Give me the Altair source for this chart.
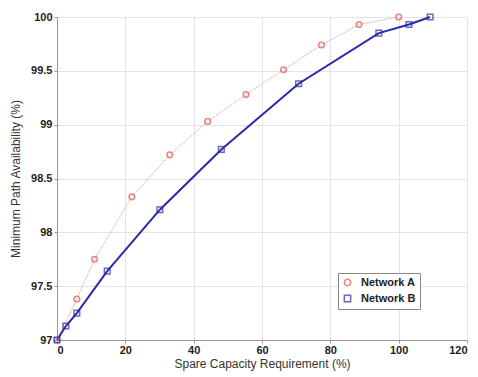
import altair as alt
import pandas as pd

a_x = [0, 5.8, 11.0, 21.9, 33.0, 44.1, 55.3, 66.3, 77.4, 88.4, 100.0]
a_y = [97.0, 97.38, 97.75, 98.33, 98.72, 99.03, 99.28, 99.51, 99.74, 99.93, 100.0]
b_x = [0, 2.6, 5.8, 14.7, 30.1, 48.1, 70.7, 94.2, 103.0, 109.2]
b_y = [97.0, 97.13, 97.25, 97.64, 98.21, 98.77, 99.38, 99.85, 99.93, 100.0]
series = ["Network A", "Network B"]
x_ticks = [0, 20, 40, 60, 80, 100, 120]
y_ticks = [97, 97.5, 98, 98.5, 99, 99.5, 100]

df = pd.concat([
    pd.DataFrame({"x": a_x, "y": a_y, "s": series[0], "o": range(len(a_x))}),
    pd.DataFrame({"x": b_x, "y": b_y, "s": series[1], "o": range(len(b_x))}),
])

xs = alt.Scale(domain=[0, 120], nice=False)
ys = alt.Scale(domain=[97, 100], nice=False, zero=False)
xax = alt.Axis(values=x_ticks, title="Spare Capacity Requirement (%)", grid=True,
               gridColor="#e4e4e4", domainColor="#999", tickColor="#999",
               labelFont="Liberation Sans", labelFontSize=11, labelFontWeight="bold", labelColor="#222",
               titleFont="Liberation Sans", titleFontSize=12, titleFontWeight="normal", titleColor="#333",
               titlePadding=3, labelPadding=1, tickSize=3)
yax = alt.Axis(values=y_ticks, format="~f", title="Minimum Path Availability (%)", grid=True,
               gridColor="#e4e4e4", domainColor="#999", tickColor="#999",
               labelFont="Liberation Sans", labelFontSize=11, labelFontWeight="bold", labelColor="#222",
               titleFont="Liberation Sans", titleFontSize=12, titleFontWeight="normal", titleColor="#333",
               titlePadding=8, labelPadding=2, tickSize=3)

color = alt.Color("s:N", scale=alt.Scale(domain=series, range=["#e05050", "#2a2aa8"]),
                  legend=alt.Legend(title=None, orient="none", legendX=281, legendY=256,
                                    fillColor="white", strokeColor="#888", padding=4,
                                    labelFont="Liberation Sans", labelFontSize=11, labelFontWeight="bold",
                                    labelColor="#222", symbolStrokeWidth=1.5, rowPadding=3,
                                    symbolSize=40, labelOffset=8))
shape = alt.Shape("s:N", scale=alt.Scale(domain=series, range=["circle", "square"]), legend=None)

base = alt.Chart(df).encode(
    x=alt.X("x:Q", scale=xs, axis=xax),
    y=alt.Y("y:Q", scale=ys, axis=yax),
)

line_a = base.transform_filter(alt.datum.s == series[0]).mark_line(
    color="#eab0b0", strokeWidth=1, strokeDash=[2, 1]).encode(order="o:Q")
line_b = base.transform_filter(alt.datum.s == series[1]).mark_line(
    color="#2a2aa8", strokeWidth=2).encode(order="o:Q")
pts = base.mark_point(filled=False, size=32, strokeWidth=1.5).encode(color=color, shape=shape)

chart = alt.layer(line_a, line_b, pts).properties(
    width=410, height=323,
    autosize=alt.AutoSizeParams(type="none"),
    padding={"left": 49, "top": 9, "right": 3, "bottom": 37},
).configure_view(stroke="#bbb").configure(background="white")

chart.save("out.html", embed_options={"renderer": "svg", "actions": False})
